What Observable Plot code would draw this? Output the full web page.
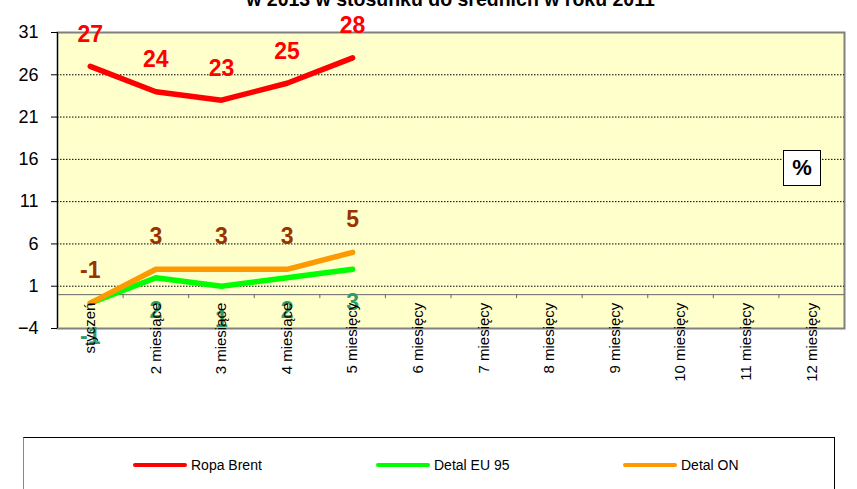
<!DOCTYPE html>
<html>
<head>
<meta charset="utf-8">
<script src="https://cdn.jsdelivr.net/npm/d3@7"></script>
<script src="https://cdn.jsdelivr.net/npm/@observablehq/plot@0.6"></script>
<style>
  body { margin: 0; background: #fff; font-family: Arial, "Liberation Sans", sans-serif; overflow: hidden; }
  #wrap { position: relative; width: 857px; height: 489px; overflow: hidden; }
  #title { position: absolute; top: -10px; left: 57px; width: 787px; text-align: center; font-weight: bold;
           font-size: 19.5px; line-height: 19.5px; white-space: nowrap; color: #000; }
  #chart { position: absolute; left: 0; top: 0; }
  #pct { position: absolute; left: 783px; top: 150px; width: 36px; height: 34px; border: 1px solid #000;
         background: #fff; font-weight: bold; font-size: 22px; line-height: 34px; text-align: center; }
  #legend { position: absolute; left: 23px; top: 437px; width: 810px; height: 80px;
            border-top: 1px solid #000; border-left: 1px solid #888; border-right: 1px solid #000; background: #fff; }
  .item { position: absolute; top: 19px; height: 16px; font-size: 14px; display: flex; align-items: center; color: #000; }
  .swatch { display: inline-block; width: 54px; height: 4px; border-radius: 2px; margin-right: 4px; }
</style>
</head>
<body>
<div id="wrap">
  <div id="chart"></div>
  <div id="title">w 2013 w stosunku do średnich w roku 2011</div>
  <div id="pct">%</div>
  <div id="legend"></div>
</div>
<script>
// ---- data ----
const titleText = "w 2013 w stosunku do średnich w roku 2011";
const categories = ["styczeń", "2 miesiące", "3 miesiące", "4 miesiące", "5 miesięcy", "6 miesięcy",
                    "7 miesięcy", "8 miesięcy", "9 miesięcy", "10 miesięcy", "11 miesięcy", "12 miesięcy"];
const ropaBrent = [27, 24, 23, 25, 28];
const detalEU95 = [-1, 2, 1, 2, 3];
const detalON = [-1, 3, 3, 3, 5];
const yTicks = [31, 26, 21, 16, 11, 6, 1, -4];
const seriesNames = ["Ropa Brent", "Detal EU 95", "Detal ON"];
const seriesColors = ["#FF0000", "#00FF00", "#FF9900"];
const labelColors = ["#FF0000", "#2E9A6A", "#993300"];

// ---- derived tables ----
const rows = (vals) => vals.map((v, i) => ({ i, v }));
const brentRows = rows(ropaBrent);
const eu95Rows = rows(detalEU95);
const onRows = rows(detalON);
const boundaries = categories.slice(1).map((_, k) => k + 0.5);
const gridValues = yTicks.slice(1, -1);

const lineOpts = (color) => ({ x: "i", y: "v", stroke: color, strokeWidth: 5.5,
                                strokeLinecap: "round", strokeLinejoin: "round" });
const labelOpts = (color, dy) => ({ x: "i", y: "v", text: d => String(d.v), dy, fill: color,
                                     fontSize: 23, fontWeight: "bold" });

const chart = Plot.plot({
  width: 857,
  height: 437,
  marginLeft: 57,
  marginRight: 13,
  marginTop: 32,
  marginBottom: 109,
  style: { fontFamily: "Arial, 'Liberation Sans', sans-serif", background: "transparent", color: "#000" },
  x: { domain: [-0.5, categories.length - 0.5], axis: null },
  y: { domain: [yTicks[yTicks.length - 1], yTicks[0]], axis: null },
  marks: [
    Plot.frame({ fill: "#FFFFCC", stroke: "#808080", strokeWidth: 2 }),
    Plot.gridY(gridValues, { stroke: "#000", strokeOpacity: 1, strokeDasharray: "1.5,1.5" }),
    Plot.ruleY([0], { stroke: "#666" }),
    Plot.ruleX(boundaries, { x: d => d, y1: () => 0, y2: () => 0, insetBottom: -4, stroke: "#666" }),
    Plot.axisY(yTicks, { tickSize: 6, tickPadding: 13, fontSize: 18, anchor: "left", label: null,
                         stroke: "#000", fill: "#000" }),
    Plot.ruleX([-0.5], { stroke: "#000" }),
    Plot.line(brentRows, lineOpts(seriesColors[0])),
    Plot.line(eu95Rows, lineOpts(seriesColors[1])),
    Plot.line(onRows, lineOpts(seriesColors[2])),
    Plot.text(brentRows, labelOpts(labelColors[0], -32)),
    Plot.text(onRows, labelOpts(labelColors[2], -33)),
    Plot.text(eu95Rows, labelOpts(labelColors[1], 33)),
    Plot.text(categories, { x: (d, i) => i, y: () => 0, text: d => d, rotate: -90, textAnchor: "end",
                            dy: 8, fontSize: 15, fill: "#000" })
  ]
});
document.getElementById("chart").appendChild(chart);
document.getElementById("title").textContent = titleText;

const legend = document.getElementById("legend");
const itemLefts = [109, 352, 599];
seriesNames.forEach((name, k) => {
  const item = document.createElement("div");
  item.className = "item";
  item.style.left = itemLefts[k] + "px";
  const sw = document.createElement("span");
  sw.className = "swatch";
  sw.style.background = seriesColors[k];
  const tx = document.createElement("span");
  tx.textContent = name;
  item.appendChild(sw);
  item.appendChild(tx);
  legend.appendChild(item);
});
</script>
</body>
</html>
